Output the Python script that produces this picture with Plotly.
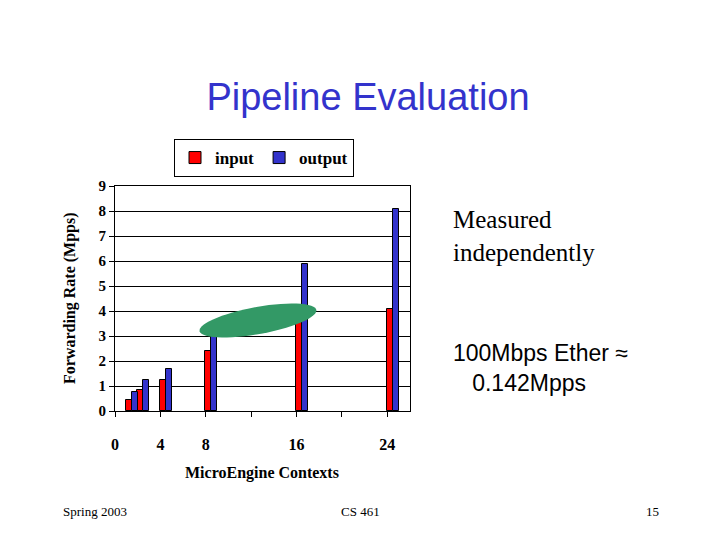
import numpy as np
import plotly.graph_objects as go

contexts = [1, 2, 4, 8, 16, 24]
input_rate = [0.46, 0.86, 1.26, 2.42, 3.95, 4.07]
output_rate = [0.76, 1.26, 1.70, 3.31, 5.88, 8.09]
tick_vals = [0, 4, 8, 12, 16, 20, 24]
tick_text = ["<b>0</b>", "<b>4</b>", "<b>8</b>", "", "<b>16</b>", "", "<b>24</b>"]

times = "Liberation Serif"

fig = go.Figure()
fig.add_bar(x=contexts, y=input_rate, name="<b>input</b>", width=0.5, offset=-0.03,
            marker=dict(color="#ff0000", line=dict(color="#000000", width=1)))
fig.add_bar(x=contexts, y=output_rate, name="<b>output</b>", width=0.5, offset=0.49,
            marker=dict(color="#3333cc", line=dict(color="#000000", width=1)))

# green highlight ellipse
t = np.linspace(0, 2 * np.pi, 60)
ex = 12.6 + 5.15 * np.cos(t)
ey = 3.62 + 0.55 * np.sin(t) + 0.4 * np.cos(t)
path = "M " + " L ".join(f"{a:.3f},{b:.3f}" for a, b in zip(ex, ey)) + " Z"
fig.add_shape(type="path", path=path, xref="x", yref="y", fillcolor="#339966",
              line=dict(width=0), layer="above")

axis_common = dict(showline=True, linecolor="#000000", linewidth=1, mirror=True,
                   ticks="outside", tickcolor="#000000", ticklen=5)
fig.update_xaxes(range=[0, 26], tickvals=tick_vals, ticktext=tick_text, showgrid=False,
                 ticklabelstandoff=14, tickfont=dict(family=times, size=16, color="#000000"),
                 **axis_common)
fig.update_yaxes(range=[0, 9], tickvals=list(range(10)),
                 ticktext=[f"<b>{i}</b>" for i in range(10)],
                 showgrid=True, gridcolor="#000000", gridwidth=1, zeroline=False,
                 tickfont=dict(family=times, size=15, color="#000000"), **axis_common)

fig.update_layout(
    width=720, height=540, barmode="overlay", bargap=0,
    paper_bgcolor="#ffffff", plot_bgcolor="#ffffff",
    margin=dict(l=107, r=318, t=178, b=137),
    showlegend=True,
    legend=dict(orientation="h", x=0.2, y=1.04, xanchor="left", yanchor="bottom",
                bordercolor="#000000", borderwidth=1, bgcolor="#ffffff",
                font=dict(family=times, size=17, color="#000000"),
                itemwidth=30, tracegroupgap=0),
    title=dict(text="Pipeline Evaluation", x=0.5, xanchor="center", y=0.835, yanchor="middle",
               font=dict(family="Liberation Sans", size=38, color="#3333cc")),
)

ann = [
    dict(text="<b>Forwarding Rate (Mpps)</b>", x=70, y=298, textangle=-90,
         font=dict(family=times, size=16)),
    dict(text="<b>MicroEngine Contexts</b>", x=262, y=473, font=dict(family=times, size=16)),
    dict(text="Measured<br>independently", x=451, y=236, xanchor="left",
         font=dict(family=times, size=25)),
    dict(text="100Mbps Ether \u2248<br>   0.142Mpps", x=451, y=368, xanchor="left",
         font=dict(family="Liberation Sans", size=23)),
    dict(text="Spring 2003", x=95, y=511, font=dict(family=times, size=13)),
    dict(text="CS 461", x=360, y=511, font=dict(family=times, size=13)),
    dict(text="15", x=652, y=511, font=dict(family=times, size=13)),
]
for a in ann:
    a["font"]["color"] = "#000000"
    fig.add_annotation(xref="paper", yref="paper", showarrow=False,
                       x=(a["x"] - 115) / 295, y=(411 - a["y"]) / 225,
                       text=a["text"], textangle=a.get("textangle", 0),
                       xanchor=a.get("xanchor", "center"), yanchor="middle",
                       align="left", font=a["font"])

fig.write_html("out.html")
